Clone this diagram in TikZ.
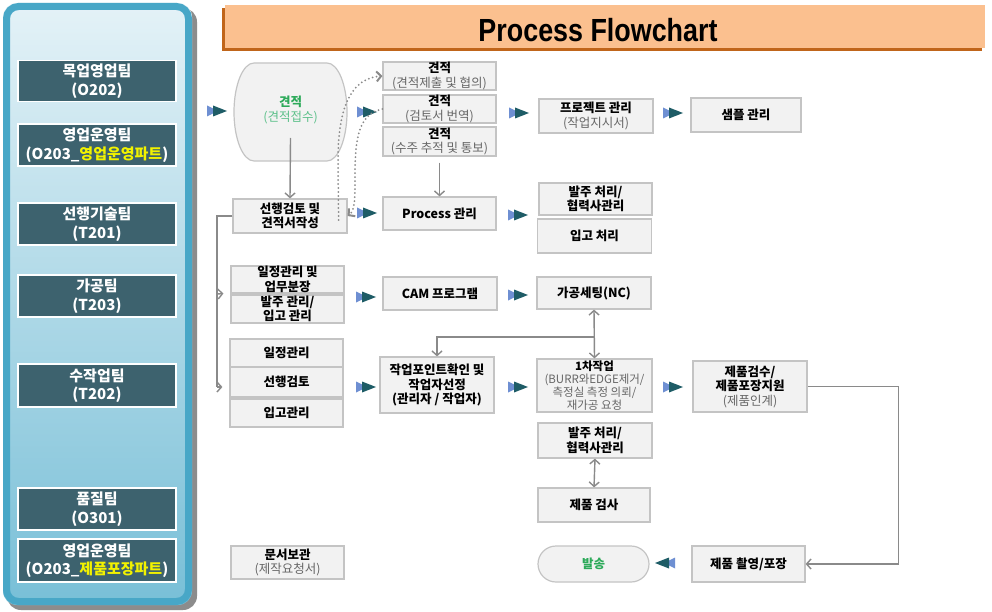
\documentclass[tikz,border=0pt]{standalone}
\usepackage{fontspec}
\setmainfont{Noto Sans CJK KR}
\newfontfamily\titlefont{Liberation Sans}
\usetikzlibrary{arrows.meta,shapes.misc,calc}
\definecolor{boxfill}{HTML}{F2F2F2}
\definecolor{boxline}{HTML}{C4C4C4}
\definecolor{conn}{HTML}{8A8A8A}
\definecolor{team}{HTML}{3D626E}
\definecolor{panelline}{HTML}{48A7C7}
\definecolor{paneltop}{HTML}{E4F2F7}
\definecolor{panelbot}{HTML}{78BFD7}
\definecolor{titlefill}{HTML}{FBC08F}
\definecolor{titleshadow}{HTML}{C0651A}
\definecolor{triA}{HTML}{6E8FD2}
\definecolor{triB}{HTML}{1E5C66}
\definecolor{greentext}{HTML}{2DAA5A}
\definecolor{lightgreen}{HTML}{5CC08A}
\definecolor{subgray}{HTML}{666666}
\definecolor{yel}{HTML}{F2F200}
\newcommand\subt[1]{{\mdseries\color{subgray}#1}}
\tikzset{
  proc/.style={draw=boxline, fill=boxfill, line width=1.2pt, minimum width=113pt,
    inner sep=0pt, align=center, font=\fontsize{12.5}{14.5}\selectfont\bfseries},
  teambox/.style={draw=white, fill=team, line width=1.5pt, minimum width=158pt,
    inner sep=0pt, align=center, text=white, font=\fontsize{15}{18.5}\selectfont\bfseries},
  conn/.style={draw=conn, line width=1.4pt},
  barb/.style={-{Straight Barb[length=4.5pt,width=10pt]}},
  dbarb/.style={{Straight Barb[length=4.5pt,width=10pt]}-{Straight Barb[length=4.5pt,width=10pt]}},
  dotconn/.style={draw=conn, line width=2pt, line cap=round, dash pattern=on 0pt off 4pt},
  dotbarb/.style={-{Straight Barb[length=4.5pt,width=10pt,line cap=butt]}},
  dtri/.pic={\fill[triA] (-10,-5.5)--(1,0)--(-10,5.5)--cycle;
             \fill[triB] (-4,-5.5)--(10,0)--(-4,5.5)--cycle;}
}
\begin{document}
\begin{tikzpicture}[x=1pt,y=-1pt]
\useasboundingbox (0,0) rectangle (992,612);
\fill[white] (0,0) rectangle (992,612);
% left panel
\fill[black!45, rounded corners=14pt] (7,8) rectangle (197,610);
\shade[top color=paneltop, bottom color=panelbot, rounded corners=14pt] (3,3) rectangle (192,605);
\draw[panelline, line width=7pt, rounded corners=12pt] (6.5,6.5) rectangle (188.5,601.5);
\node[teambox, minimum height=41pt] (t1) at (97,81) {목업영업팀\\(O202)};
\node[teambox, minimum height=42pt] (t2) at (97,145) {영업운영팀\\(O203\_\textcolor{yel}{영업운영파트})};
\node[teambox, minimum height=42pt] (t3) at (97,224) {선행기술팀\\(T201)};
\node[teambox, minimum height=42pt] (t4) at (97,296) {가공팀\\(T203)};
\node[teambox, minimum height=43pt] (t5) at (97,385.5) {수작업팀\\(T202)};
\node[teambox, minimum height=42pt] (t6) at (97,509) {품질팀\\(O301)};
\node[teambox, minimum height=43pt] (t7) at (97,560.5) {영업운영팀\\(O203\_\textcolor{yel}{제품포장파트})};
% title
\fill[titleshadow] (222,8) rectangle (982,51);
\fill[titlefill] (225,5) rectangle (985,48);
\node (title) at (598,30) {\titlefont\fontsize{32}{32}\selectfont\bfseries\scalebox{0.84}[1]{Process Flowchart}};
% estimate receive shape
\draw[draw=boxline, fill=boxfill, line width=1.2pt] (254,63) -- (327,63)
  arc[start angle=-90, end angle=90, x radius=20, y radius=49] -- (254,161)
  arc[start angle=90, end angle=270, x radius=20, y radius=49] -- cycle;
\node[align=center, font=\fontsize{12.5}{14.5}\selectfont, minimum width=113pt, minimum height=98pt] (q0) at (290.5,110)
  {\textbf{\textcolor{greentext}{견적}}\\\textcolor{lightgreen}{(견적접수)}};
% process boxes
\node[proc, minimum height=28pt] (q1) at (439.5,76) {견적\\\subt{(견적제출 및 협의)}};
\node[proc, minimum height=28pt] (q2) at (439.5,109) {견적\\\subt{(검토서 번역)}};
\node[proc, minimum height=29pt] (q3) at (439.5,141.5) {견적\\\subt{(수주 추적 및 통보)}};
\node[proc, minimum height=34pt, minimum width=114pt] (pre) at (290,216) {선행검토 및\\견적서작성};
\node[proc, minimum height=33pt] (pm) at (439.5,213.5) {Process 관리};
\node[proc, minimum height=34pt, minimum width=114pt] (prj) at (596,116) {프로젝트 관리\\\subt{(작업지시서)}};
\node[proc, minimum height=34pt, minimum width=110pt] (smp) at (746,115) {샘플 관리};
\node[proc, minimum height=32pt] (ord1) at (595.5,199) {발주 처리/\\협력사관리};
\node[proc, minimum height=34pt, minimum width=114pt] (rcv1) at (594.5,236) {입고 처리};
\node[proc, minimum height=27pt] (sch1) at (287.5,279.5) {일정관리 및\\업무분장};
\node[proc, minimum height=28pt] (ord2) at (287.5,309) {발주 관리/\\입고 관리};
\node[proc, minimum height=33pt, minimum width=114pt] (cam) at (440,293.5) {CAM 프로그램};
\node[proc, minimum height=32pt, minimum width=114pt] (nc) at (594,293) {가공세팅(NC)};
\node[proc, minimum height=28pt] (sch2) at (286.5,353) {일정관리};
\node[proc, minimum height=30pt] (pre2) at (286.5,382) {선행검토};
\node[proc, minimum height=28pt] (rcv2) at (286.5,413) {입고관리};
\node[proc, minimum height=56pt, minimum width=114pt] (wp) at (437,385) {작업포인트확인 및\\작업자선정\\(관리자 / 작업자)};
\node[proc, minimum height=53pt, minimum width=115pt, font=\fontsize{11.5}{13}\selectfont\bfseries] (w1) at (594.5,385.5)
  {1차작업\\\subt{(BURR와EDGE제거/}\\\subt{측정실 측정 의뢰/}\\\subt{재가공 요청}};
\node[proc, minimum height=51pt, minimum width=114pt] (insp) at (750,386.5) {제품검수/\\제품포장지원\\\subt{(제품인계)}};
\node[proc, minimum height=35pt, minimum width=114pt] (ord3) at (595,440.5) {발주 처리/\\협력사관리};
\node[proc, minimum height=34pt, minimum width=112pt] (qc) at (594,505) {제품 검사};
\node[proc, rounded rectangle, minimum height=36pt, minimum width=111pt] (ship) at (593.5,564) {\textcolor{greentext}{발송}};
\node[proc, minimum height=36pt] (pack) at (748.5,564) {제품 촬영/포장};
\node[proc, minimum height=33pt] (doc) at (287.5,562.5) {문서보관\\\subt{(제작요청서)}};
% double triangle markers
\foreach \p in {(217,111),(367,112),(519,113),(673,113),(367,213),(518,215),
                (366,297),(518,295),(366,387),(518,387),(673,387)}
  \pic at \p {dtri};
\pic[xscale=-1] at (665,563) {dtri};
% connectors
\draw[conn, barb] ([yshift=-28pt]q0.center) -- (pre.north);
\draw[conn, barb] ([yshift=-6pt]q3.south) -- (pm.north);
\draw[dotconn, dotbarb] ([xshift=-9pt,yshift=-4pt]pre.east) -- (338,160)
  .. controls (338,100) and (355,78) .. (q1.west);
\draw[dotconn, dotbarb] (q2.west) .. controls (358,114) and (355,140) .. (355,175)
  .. controls (355,200) and (355,210) .. (pre.east);
\coordinate (bend) at (217,387);
\coordinate (mid) at (217,294);
\draw[conn] (pre.west) -| (bend);
\draw[conn, barb] (mid) -- ([xshift=-7pt]sch1.south west);
\draw[conn, barb] (bend) -- ([xshift=-7pt,yshift=-5pt]pre2.west);
\draw[conn, dbarb] (nc.south) -- (w1.north);
\coordinate (junc) at (594,337);
\draw[conn, barb] (junc) -| (wp.north);
\draw[conn, dbarb] (ord3.south) -- (qc.north);
\draw[conn, barb] (insp.east) -- ++(91,0) |- (pack.east);
\end{tikzpicture}
\end{document}
